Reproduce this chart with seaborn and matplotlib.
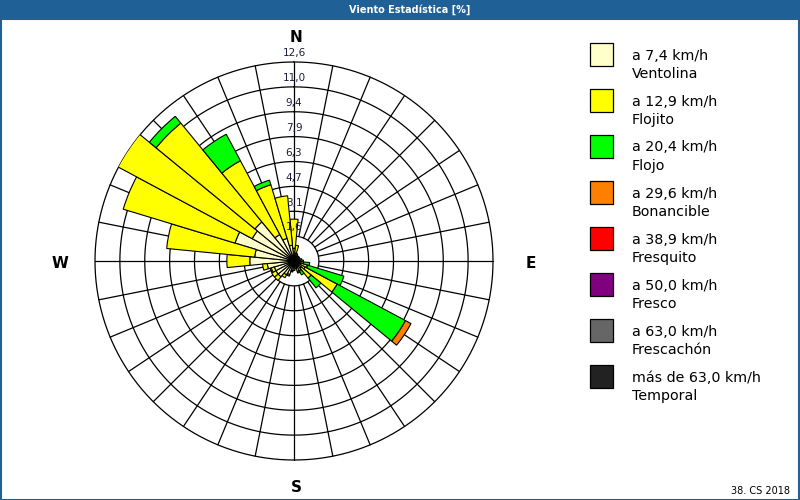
import numpy as np
import seaborn as sns
import matplotlib.pyplot as plt
from matplotlib.patches import Rectangle

# 32 sectors, centres in degrees clockwise from north
directions = [i * 11.25 for i in range(32)]

# Frequency [%] per speed class (segment heights, stacked outwards)
ventolina = [0.8, 0.5, 0.3, 0.3, 0.3, 0.3, 0.3, 0.3, 0.3, 0.3, 0.4, 0.8, 0.6, 0.4, 0.4, 0.3,
             0.4, 0.6, 0.9, 1.0, 1.3, 1.3, 1.3, 1.7, 2.8, 2.5, 3.9, 3.0, 3.2, 1.9, 1.5, 1.0]
flojito = [1.85, 0.5, 0.2, 0.1, 0.1, 0.1, 0.1, 0.2, 0.3, 0.3, 0.5, 2.3, 0.8, 0.3, 0.3, 0.2,
           0.2, 0.1, 0.1, 0.2, 0.3, 0.3, 0.2, 0.3, 1.45, 5.6, 7.4, 9.7, 8.1, 5.3, 3.55, 3.15]
flojo = [0, 0, 0, 0, 0, 0, 0, 0, 0, 0.4, 2.4, 4.9, 0.8, 0.3, 0.1, 0,
         0, 0, 0, 0, 0, 0, 0, 0, 0, 0, 0, 0, 0.55, 1.9, 0.3, 0]
bonancible = [0, 0, 0, 0, 0, 0, 0, 0, 0, 0, 0, 0.4, 0, 0, 0, 0,
              0, 0, 0, 0, 0, 0, 0, 0, 0, 0, 0, 0, 0, 0, 0, 0]

series = [ventolina, flojito, flojo, bonancible]

legend_top = ["a 7,4 km/h", "a 12,9 km/h", "a 20,4 km/h", "a 29,6 km/h",
              "a 38,9 km/h", "a 50,0 km/h", "a 63,0 km/h", "más de 63,0 km/h"]
legend_bottom = ["Ventolina", "Flojito", "Flojo", "Bonancible",
                 "Fresquito", "Fresco", "Frescachón", "Temporal"]
colors = ["#ffffcc", "#ffff00", "#00ff00", "#ff8000",
          "#ff0000", "#800080", "#666666", "#222222"]

ring_values = [1.575 * k for k in range(1, 9)]
ring_labels = ["1,6", "3,1", "4,7", "6,3", "7,9", "9,4", "11,0", "12,6"]
rmax = 12.6

sns.set_style("white")
plt.rcParams['font.family'] = ['DejaVu Sans']

fig = plt.figure(figsize=(8, 5), dpi=100)
W, H = 800, 500
cx, cy, rad = 294, 261, 199
ax = fig.add_axes([(cx - rad) / W, (H - cy - rad) / H, 2 * rad / W, 2 * rad / H], projection='polar')
ax.set_theta_zero_location('N')
ax.set_theta_direction(-1)
ax.set_ylim(0, rmax)
ax.grid(False)
ax.set_xticks([])
ax.set_yticks([])
ax.spines['polar'].set_visible(False)
ax.set_facecolor('white')

# grid: rings and spokes (spokes start at the first ring)
t = np.linspace(0, 2 * np.pi, 721)
for r in ring_values:
    ax.plot(t, np.full_like(t, r), color='black', lw=0.9, zorder=1, clip_on=False)
for a in directions:
    th = np.deg2rad(a)
    ax.plot([th, th], [ring_values[0], rmax], color='black', lw=0.9, zorder=1, clip_on=False)

theta = np.deg2rad(directions)
width = np.deg2rad(11.25)
bottom = np.zeros(len(directions))
for vals, col in zip(series, colors):
    vals = np.array(vals)
    mask = vals > 0
    ax.bar(theta[mask], vals[mask], width=width, bottom=bottom[mask], color=col,
           edgecolor='black', linewidth=0.8, zorder=2, align='center')
    bottom = bottom + vals

for r, lab in zip(ring_values, ring_labels):
    ax.text(0, r + 0.55, lab, ha='center', va='center', fontsize=7.5, color='#1c1c3c', zorder=3)

# compass letters
for x, y, s in [(296, 37, 'N'), (296, 488, 'S'), (60, 264, 'W'), (531, 264, 'E')]:
    fig.text(x / W, 1 - y / H, s, ha='center', va='center', fontsize=11, fontweight='bold', color='black')

# title band and frame
fig.patches.append(Rectangle((0, 1 - 19 / H), 1, 19 / H, transform=fig.transFigure,
                             facecolor='#1f6096', edgecolor='none', zorder=0))
fig.patches.append(Rectangle((0.5 / W, 0.5 / H), 1 - 1.5 / W, 1 - 19 / H, transform=fig.transFigure,
                             facecolor='none', edgecolor='#1f6096', lw=1.5, zorder=5))
fig.text(410 / W, 1 - 10 / H, "Viento Estadística [%]", ha='center', va='center',
         fontsize=7, fontweight='bold', color='white')

# legend
for i in range(8):
    y0 = 43 + 46 * i
    fig.patches.append(Rectangle((590 / W, 1 - (y0 + 23) / H), 23 / W, 23 / H, transform=fig.transFigure,
                                 facecolor=colors[i], edgecolor='black', lw=0.9))
    fig.text(632 / W, 1 - (y0 + 12.5) / H, legend_top[i], ha='left', va='center', fontsize=10.3, color='black')
    fig.text(632 / W, 1 - (y0 + 31) / H, legend_bottom[i], ha='left', va='center', fontsize=10.3, color='black')

fig.text(790 / W, 1 - 491 / H, "38. CS 2018", ha='right', va='center', fontsize=7, color='black')

fig.savefig("out.png", dpi=100)
